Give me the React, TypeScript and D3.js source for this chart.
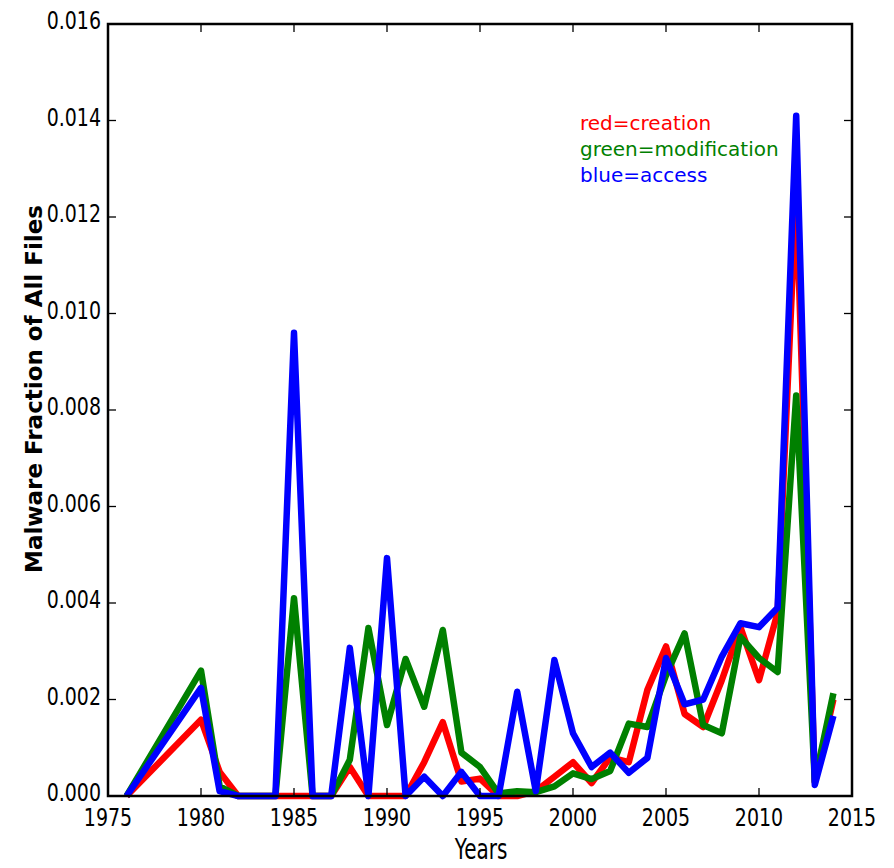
import * as d3 from "d3";

// years with data (1977-1979 missing in the source)
const years = [
  1976, 1980, 1981, 1982, 1983, 1984, 1985, 1986, 1987, 1988, 1989, 1990,
  1991, 1992, 1993, 1994, 1995, 1996, 1997, 1998, 1999, 2000, 2001, 2002,
  2003, 2004, 2005, 2006, 2007, 2008, 2009, 2010, 2011, 2012, 2013, 2014,
];

const creation = [
  0, 0.00158, 0.0005, 0, 0, 0, 0, 0, 0, 0.0006, 0, 0,
  0, 0.0007, 0.00153, 0.0003, 0.00036, 0, 0, 0.0001, 0.0004, 0.0007, 0.00027, 0.0008,
  0.0007, 0.0022, 0.0031, 0.0017, 0.00143, 0.0024, 0.0035, 0.0024, 0.0038, 0.0125, 0.0003, 0.002,
];

const modification = [
  0, 0.0026, 0.0002, 0, 0, 0, 0.0041, 0, 0, 0.00075, 0.00348, 0.00147,
  0.00284, 0.00185, 0.00344, 0.0009, 0.0006, 0.00005, 0.0001, 0.00008, 0.0002, 0.00047, 0.00035, 0.00052,
  0.0015, 0.00143, 0.0025, 0.00337, 0.00147, 0.0013, 0.0033, 0.00286, 0.00257, 0.0083, 0.0003, 0.00213,
];

const access = [
  0, 0.00224, 0.0001, 0, 0, 0, 0.0096, 0, 0, 0.00307, 0, 0.00493,
  0, 0.0004, 0, 0.0005, 0, 0, 0.00216, 0.0001, 0.00282, 0.0013, 0.0006, 0.0009,
  0.00048, 0.00079, 0.00286, 0.0019, 0.002, 0.00289, 0.00358, 0.0035, 0.0039, 0.0141, 0.00023, 0.00166,
];

const xTicks = [1975, 1980, 1985, 1990, 1995, 2000, 2005, 2010, 2015];
const yTicks = [0, 0.002, 0.004, 0.006, 0.008, 0.01, 0.012, 0.014, 0.016];

const legendLabels = ["red=creation", "green=modification", "blue=access"];
const seriesColors = ["#ff0000", "#008000", "#0000ff"];

export default function App() {
  const width = 894;
  const height = 868;
  const margin = { top: 24, right: 42, bottom: 72, left: 108 };

  const x = d3
    .scaleLinear()
    .domain([1975, 2015])
    .range([margin.left, width - margin.right]);

  const y = d3
    .scaleLinear()
    .domain([0, 0.016])
    .range([height - margin.bottom, margin.top]);

  const line = d3
    .line<number>()
    .x((_, i) => x(years[i]))
    .y((d) => y(d));

  const series = [creation, modification, access];
  const font = "DejaVu Sans";
  const tickLen = 8;
  const bottom = height - margin.bottom;
  const right = width - margin.right;

  return (
    <svg
      width={width}
      height={height}
      style={{ position: "absolute", left: 0, top: 0, background: "#fff" }}
    >
      {/* lines */}
      {series.map((s, i) => (
        <path
          key={i}
          d={line(s) ?? ""}
          fill="none"
          stroke={seriesColors[i]}
          strokeWidth={6.5}
          strokeLinejoin="round"
          strokeLinecap="butt"
        />
      ))}

      {/* ticks, inward on all four sides */}
      {xTicks.map((t) => (
        <g key={"x" + t}>
          <line x1={x(t)} x2={x(t)} y1={bottom} y2={bottom - tickLen} stroke="#000" strokeWidth={1.3} />
          <line x1={x(t)} x2={x(t)} y1={margin.top} y2={margin.top + tickLen} stroke="#000" strokeWidth={1.3} />
          <text
            transform={`translate(${x(t)},${bottom + 30}) scale(1,1.33)`}
            textAnchor="middle"
            fontSize={19}
            fontFamily={font}
            fill="#000"
          >
            {t}
          </text>
        </g>
      ))}
      {yTicks.map((t) => (
        <g key={"y" + t}>
          <line x1={margin.left} x2={margin.left + tickLen} y1={y(t)} y2={y(t)} stroke="#000" strokeWidth={1.3} />
          <line x1={right} x2={right - tickLen} y1={y(t)} y2={y(t)} stroke="#000" strokeWidth={1.3} />
          <text
            transform={`translate(${margin.left - 7},${y(t) + 5}) scale(1,1.33)`}
            textAnchor="end"
            fontSize={19}
            fontFamily={font}
            fill="#000"
          >
            {t.toFixed(3)}
          </text>
        </g>
      ))}

      {/* frame */}
      <rect
        x={margin.left}
        y={margin.top}
        width={right - margin.left}
        height={bottom - margin.top}
        fill="none"
        stroke="#000"
        strokeWidth={2.5}
      />

      {/* axis labels */}
      <text
        transform={`translate(481,859) scale(1,1.45)`}
        textAnchor="middle"
        fontSize={20}
        fontFamily={font}
        fill="#000"
      >
        Years
      </text>
      <text
        transform={`translate(42,389) rotate(-90)`}
        textAnchor="middle"
        fontSize={23}
        fontWeight="bold"
        fontFamily={font}
        fill="#000"
      >
        Malware Fraction of All Files
      </text>

      {/* legend text */}
      {legendLabels.map((l, i) => (
        <text
          key={l}
          x={580}
          y={130 + i * 26}
          fontSize={20}
          fontFamily={font}
          fill={seriesColors[i]}
        >
          {l}
        </text>
      ))}
    </svg>
  );
}
